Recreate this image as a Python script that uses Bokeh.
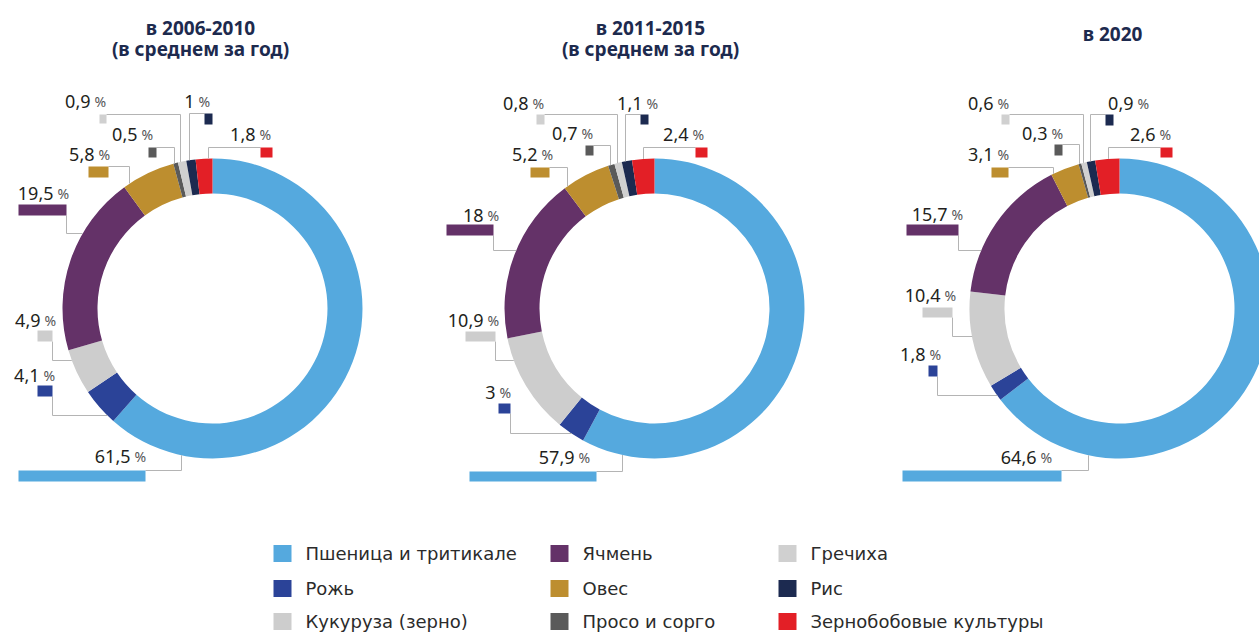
import math
from bokeh.plotting import figure
from bokeh.models import Range1d, ColumnDataSource
from bokeh.embed import file_html
from bokeh.resources import INLINE
from bokeh.core.properties import value

# ---------------- data ----------------
crops = ["Пшеница и тритикале", "Рожь", "Кукуруза (зерно)", "Ячмень", "Овес",
         "Просо и сорго", "Гречиха", "Рис", "Зернобобовые культуры"]
share_2006_2010 = [61.5, 4.1, 4.9, 19.5, 5.8, 0.5, 0.9, 1.0, 1.8]
share_2011_2015 = [57.9, 3.0, 10.9, 18.0, 5.2, 0.7, 0.8, 1.1, 2.4]
share_2020 = [64.6, 1.8, 10.4, 15.7, 3.1, 0.3, 0.6, 0.9, 2.6]
title_lines = [["в 2006-2010", "(в среднем за год)"],
               ["в 2011-2015", "(в среднем за год)"],
               ["в 2020"]]

# ---------------- style / layout ----------------
colors = ["#55a9de", "#2b4398", "#cdcdcd", "#643268", "#bd8e2f",
          "#5a5a5a", "#d0d0d0", "#1c2a50", "#e31f26"]
FONT = "Noto Sans"
LEG_FONT = "DejaVu Sans"
R_OUT, R_IN = 150, 115
centers = [(212, 308), (654, 308), (1119, 308)]
title_x = [200, 650, 1112]
title_y = [[27, 48], [27, 48], [33]]

# per slice: marker box (x0, x1, y0, y1), number right end x, text y, leader (mode, elbow)
layouts = [
    [((18, 145, 470, 481), 130, 456, ("v", 181)),
     ((37, 52, 385, 396), 39, 375, ("h", 415)),
     ((37, 52, 330, 341), 40, 320, ("h", 360)),
     ((18, 66, 204, 215), 53, 193, ("h", 233)),
     ((88, 108, 166, 177), 94, 154, ("v", 129)),
     ((148, 156, 147, 157), 137, 134, ("v", 174)),
     ((99, 106, 114, 123), 90, 101, ("v", 180)),
     ((204, 212, 113, 124), 194, 101, ("v", 189)),
     ((260, 272, 147, 157), 255, 134, ("v", 208))],
    [((469, 596, 471, 481), 574, 457, ("v", 622)),
     ((498, 510, 403, 413), 495, 392, ("h", 433)),
     ((465, 495, 331, 341), 483, 320, ("h", 360)),
     ((446, 493, 224, 235), 483, 215, ("h", 250)),
     ((530, 549, 167, 177), 537, 154, ("v", 567)),
     ((585, 593, 145, 155), 577, 133, ("v", 610)),
     ((536, 544, 114, 124), 528, 103, ("v", 617)),
     ((640, 648, 114, 124), 642, 103, ("v", 625)),
     ((695, 707, 147, 157), 688, 134, ("v", 643))],
    [((902, 1061, 470, 481), 1036, 457, ("v", 1088)),
     ((928, 937, 365, 376), 925, 354, ("h", 395)),
     ((922, 952, 307, 317), 940, 295, ("h", 336)),
     ((906, 958, 224, 235), 947, 214, ("h", 250)),
     ((991, 1008, 167, 177), 993, 154, ("v", 1053)),
     ((1054, 1062, 144, 155), 1047, 133, ("v", 1079)),
     ((1001, 1009, 114, 124), 993, 103, ("v", 1083)),
     ((1105, 1113, 114, 125), 1133, 103, ("v", 1090)),
     ((1160, 1172, 147, 157), 1155, 134, ("v", 1108))],
]

legend_col_x = [273, 550, 778]
legend_row_y = [553, 588, 621]
LEG_SQ = 18


def fmt(v):
    return f"{v:g}".replace(".", ",")


def Y(y):
    return -y


W, H = 1259, 632
p = figure(width=W, height=H, x_range=Range1d(0, W), y_range=Range1d(-H, 0),
           output_backend="svg", toolbar_location=None, min_border=0,
           x_axis_location=None, y_axis_location=None)
p.grid.visible = False
p.outline_line_color = None
p.background_fill_color = "white"

for d, shares in enumerate([share_2006_2010, share_2011_2015, share_2020]):
    cx, cy = centers[d]
    total = sum(shares)
    starts, ends = [], []
    c = 0.0
    for v in shares:
        c0, c1 = c / total, (c + v) / total
        starts.append(math.pi / 2 - 2 * math.pi * c1)
        ends.append(math.pi / 2 - 2 * math.pi * c0)
        c += v
    src = ColumnDataSource(dict(x=[cx] * len(shares), y=[Y(cy)] * len(shares),
                                start=starts, end=ends, color=colors))
    p.annular_wedge(x="x", y="y", inner_radius=R_IN, outer_radius=R_OUT,
                    start_angle="start", end_angle="end", fill_color="color",
                    line_color=None, source=src, direction="anticlock")

    xs, ys = [], []
    ql, qr, qt, qb = [], [], [], []
    tx, ty, tt, px = [], [], [], []
    for i, v in enumerate(shares):
        (x0, x1, y0, y1), nx, nyy, (mode, e) = layouts[d][i]
        ql.append(x0); qr.append(x1); qt.append(Y(y0)); qb.append(Y(y1))
        if mode == "v":
            dy = math.sqrt(max(R_OUT ** 2 - (e - cx) ** 2, 0))
            ry = cy - dy if y0 < cy else cy + dy
            sx = x1 if e > x1 else x0
            xs.append([sx, e, e]); ys.append([Y(y0), Y(y0), Y(ry)])
        else:
            rx = cx - math.sqrt(max(R_OUT ** 2 - (e - cy) ** 2, 0))
            xs.append([x1, x1, rx]); ys.append([Y(y1), Y(e), Y(e)])
        tx.append(nx); ty.append(Y(nyy)); tt.append(fmt(v)); px.append(nx + 4)
    p.multi_line(xs=xs, ys=ys, line_color="#b4b4b4", line_width=1)
    p.quad(left=ql, right=qr, top=qt, bottom=qb, fill_color=colors, line_color=None)
    p.text(x=tx, y=ty, text=tt, text_align="right", text_baseline="middle",
           text_font=value(FONT), text_font_size="18px", text_color="#231f20")
    p.text(x=px, y=ty, text=["%"] * len(tt), text_align="left", text_baseline="middle",
           text_font=value(FONT), text_font_size="14px", text_color="#555555")

    for k, line in enumerate(title_lines[d]):
        p.text(x=[title_x[d]], y=[Y(title_y[d][k])], text=[line], text_align="center",
               text_baseline="middle", text_font=value(FONT), text_font_size="19px",
               text_font_style="bold", text_color="#1d2a4e")

# legend (column-major: 3 crops per column)
lx, ly, lc, ltx, lty, ltt = [], [], [], [], [], []
for i, name in enumerate(crops):
    col, row = i // 3, i % 3
    x = legend_col_x[col]
    y = legend_row_y[row]
    lx.append(x + LEG_SQ / 2); ly.append(Y(y)); lc.append(colors[i])
    ltx.append(x + 32); lty.append(Y(y)); ltt.append(name)
p.rect(x=lx, y=ly, width=LEG_SQ, height=17, fill_color=lc, line_color=None)
p.text(x=ltx, y=lty, text=ltt, text_align="left", text_baseline="middle",
       text_font=value(LEG_FONT), text_font_size="18px", text_color="#2b2b2b")

open("out.html", "w").write(file_html(p, INLINE))
